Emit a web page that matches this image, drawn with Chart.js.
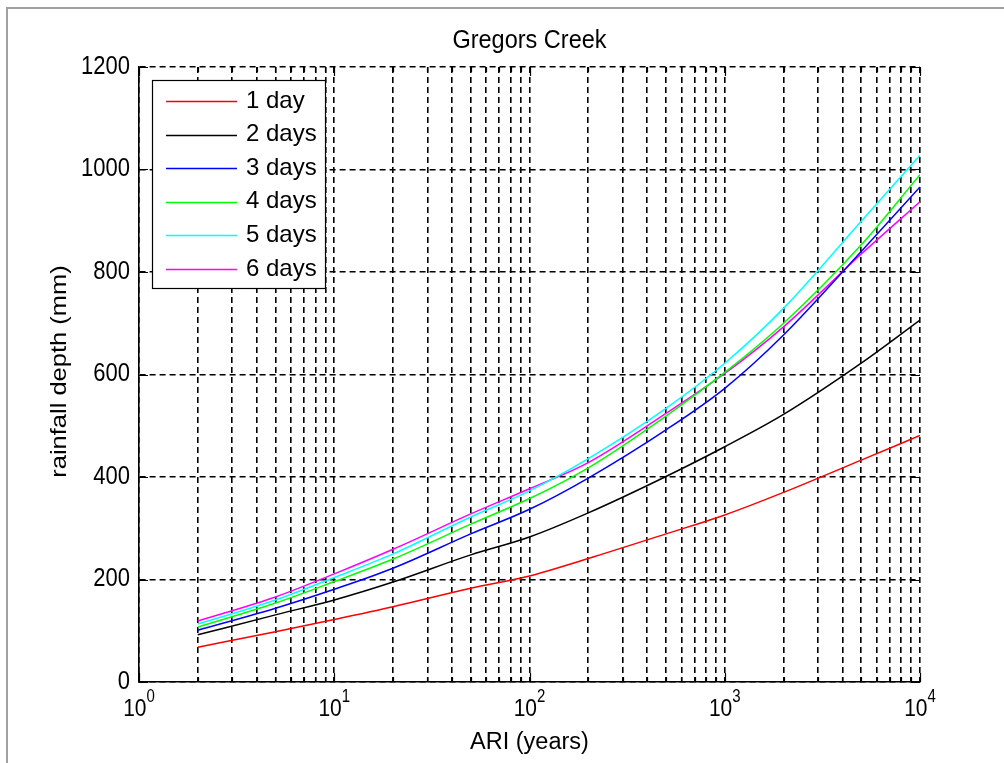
<!DOCTYPE html>
<html><head><meta charset="utf-8">
<script src="https://cdn.jsdelivr.net/npm/chart.js@4/dist/chart.umd.min.js"></script>
<style>html,body{margin:0;padding:0;background:#fff;overflow:hidden;}#wrap{position:relative;width:1004px;height:763px;}</style>
</head><body><div id="wrap"><canvas id="c" width="1004" height="763"></canvas></div>
<script>
// ---- data ----
const ari    = [2, 5, 10, 20, 50, 100, 200, 500, 1000, 2000, 5000, 10000];
const day1   = [68, 98, 122, 147, 183, 207, 241, 289, 326, 370, 433, 481];
const day2   = [92, 131, 160, 195, 248, 283, 330, 401, 459, 522, 622, 706];
const day3   = [101, 144, 181, 222, 289, 337, 398, 492, 573, 677, 840, 966];
const day4   = [107, 154, 196, 240, 308, 358, 418, 519, 604, 700, 853, 990];
const day5   = [113, 160, 204, 250, 322, 373, 436, 534, 622, 729, 899, 1028];
const day6   = [119, 166, 211, 259, 328, 377, 428, 524, 602, 693, 835, 937];
const seriesLabels = ['1 day', '2 days', '3 days', '4 days', '5 days', '6 days'];
const seriesColors = ['#ff0000', '#000000', '#0000ff', '#00ff00', '#00ffff', '#ff00ff'];
const yTickValues  = [0, 200, 400, 600, 800, 1000, 1200];
const xDecadeExps  = [0, 1, 2, 3, 4];
const titleText = 'Gregors Creek';
const xTitleText = 'ARI (years)';
const yTitleText = 'rainfall depth (mm)';

const seriesValues = [day1, day2, day3, day4, day5, day6];
const FONT = '"Liberation Sans", Arial, sans-serif';

// all log-grid positions 1..9 x 10^k
const xGridValues = [];
for (let e = 0; e < 4; e++) for (let m = 1; m < 10; m++) xGridValues.push(m * Math.pow(10, e));
xGridValues.push(10000);

function stretchedText(ctx, txt, x, y, size, align, sy, sx) {
  ctx.save();
  ctx.font = size + 'px ' + FONT;
  ctx.textAlign = align;
  ctx.textBaseline = 'middle';
  ctx.translate(x, y);
  ctx.scale(sx || 1, sy);
  ctx.fillText(txt, 0, 0);
  ctx.restore();
}

const decorPlugin = {
  id: 'decor',
  beforeDraw(chart) {
    const ctx = chart.ctx;
    ctx.save();
    ctx.fillStyle = '#fff';
    ctx.fillRect(0, 0, chart.width, chart.height);
    ctx.strokeStyle = '#a0a0a0';
    ctx.lineWidth = 2;
    ctx.beginPath();
    ctx.moveTo(7, 763); ctx.lineTo(7, 8); ctx.lineTo(1004, 8);
    ctx.stroke();
    ctx.restore();
  },
  afterDraw(chart) {
    const ctx = chart.ctx;
    const xs = chart.scales.x, ys = chart.scales.y;
    const a = chart.chartArea;
    ctx.save();
    ctx.strokeStyle = '#000';
    ctx.lineWidth = 1.2;
    ctx.setLineDash([]);
    ctx.beginPath();
    xGridValues.forEach(v => {
      const px = Math.round(xs.getPixelForValue(v)) + 0.5;
      const major = Math.abs(Math.log10(v) - Math.round(Math.log10(v))) < 1e-9;
      const len = major ? 9 : 5;
      ctx.moveTo(px, a.bottom); ctx.lineTo(px, a.bottom - len);
      ctx.moveTo(px, a.top); ctx.lineTo(px, a.top + len);
    });
    yTickValues.forEach(v => {
      const py = Math.round(ys.getPixelForValue(v)) + 0.5;
      ctx.moveTo(a.left, py); ctx.lineTo(a.left + 9, py);
      ctx.moveTo(a.right, py); ctx.lineTo(a.right - 9, py);
    });
    ctx.stroke();

    ctx.fillStyle = '#000';
    yTickValues.forEach(v => {
      stretchedText(ctx, String(v), a.left - 9, ys.getPixelForValue(v), 22, 'right', 1.13);
    });
    xDecadeExps.forEach(e => {
      const px = xs.getPixelForValue(Math.pow(10, e));
      ctx.font = '21px ' + FONT;
      const wb = ctx.measureText('10').width;
      ctx.font = '15px ' + FONT;
      const we = ctx.measureText(String(e)).width;
      const start = px - (wb + we) / 2;
      stretchedText(ctx, '10', start, 709, 21, 'left', 1.18);
      stretchedText(ctx, String(e), start + wb, 697, 15, 'left', 1.18);
    });
    const cx = (a.left + a.right) / 2;
    stretchedText(ctx, titleText, cx, 41, 23.5, 'center', 1.08);
    stretchedText(ctx, xTitleText, cx, 743, 23.5, 'center', 1.0);
    ctx.save();
    ctx.translate(60, (a.top + a.bottom) / 2 - 3);
    ctx.rotate(-Math.PI / 2);
    ctx.scale(1, 0.86);
    ctx.font = '25.5px ' + FONT;
    ctx.textAlign = 'center';
    ctx.textBaseline = 'middle';
    ctx.fillText(yTitleText, 0, 0);
    ctx.restore();

    // legend box
    const lx = 152, ly = 80, lw = 173, lh = 208;
    ctx.fillStyle = '#fff';
    ctx.fillRect(lx, ly, lw, lh);
    ctx.strokeStyle = '#000';
    ctx.lineWidth = 1.2;
    ctx.strokeRect(lx + 0.5, ly + 0.5, lw, lh);
    chart.data.datasets.forEach((ds, i) => {
      const ry = 101 + i * 33.6;
      ctx.strokeStyle = ds.borderColor;
      ctx.lineWidth = 1.5;
      ctx.beginPath();
      ctx.moveTo(166, Math.round(ry) + 0.5); ctx.lineTo(237, Math.round(ry) + 0.5);
      ctx.stroke();
      ctx.fillStyle = '#000';
      stretchedText(ctx, ds.label, 246, ry, 24, 'left', 1.0);
    });
    ctx.restore();
  }
};

const datasets = seriesValues.map((vals, i) => ({
  label: seriesLabels[i],
  data: ari.map((x, j) => ({x: x, y: vals[j]})),
  borderColor: seriesColors[i],
  backgroundColor: seriesColors[i],
  borderWidth: 1.5,
  pointRadius: 0,
  fill: false,
  cubicInterpolationMode: 'monotone'
}));

new Chart(document.getElementById('c'), {
  type: 'line',
  data: { datasets },
  plugins: [decorPlugin],
  options: {
    responsive: false,
    animation: false,
    devicePixelRatio: 1,
    layout: { padding: { left: 139, right: 84, top: 67, bottom: 0 } },
    plugins: { legend: { display: false }, tooltip: { enabled: false }, title: { display: false } },
    scales: {
      x: {
        type: 'logarithmic', min: 1, max: 10000,
        ticks: { display: false },
        afterBuildTicks: (s) => { s.ticks = xGridValues.map(v => ({ value: v })); },
        afterFit: (s) => { s.height = 81; },
        grid: { color: '#000', lineWidth: 1.6, drawTicks: false },
        border: { display: true, color: '#000', width: 1.6, dash: [6, 4] }
      },
      y: {
        type: 'linear', min: 0, max: 1200,
        ticks: { display: false, stepSize: 200 },
        afterBuildTicks: (s) => { s.ticks = yTickValues.map(v => ({ value: v })); },
        afterFit: (s) => { s.width = 0; },
        grid: { color: '#000', lineWidth: 1.6, drawTicks: false },
        border: { display: true, color: '#000', width: 1.6, dash: [6, 4] }
      }
    }
  }
});
</script></body></html>
